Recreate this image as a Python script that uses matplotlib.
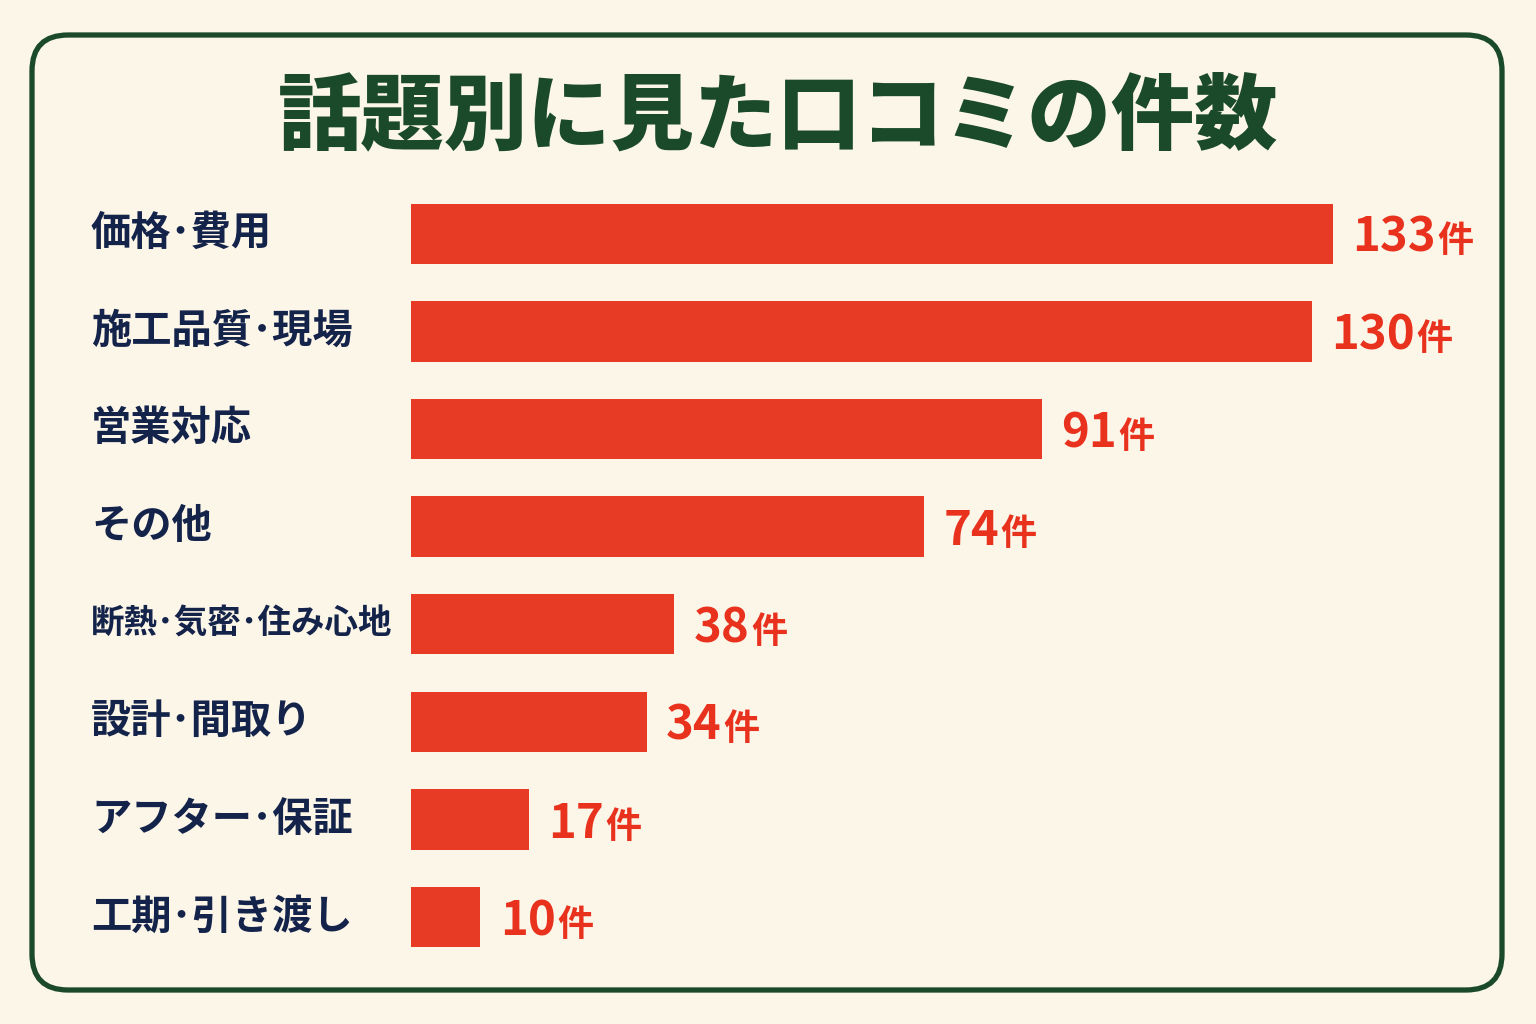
import matplotlib
matplotlib.use("Agg")
import matplotlib.pyplot as plt
from matplotlib.patches import FancyBboxPatch
from matplotlib.transforms import IdentityTransform, blended_transform_factory

plt.rcParams['font.family'] = ['Noto Sans CJK JP', 'DejaVu Sans']

title = "話題別に見た口コミの件数"
categories = ["価格・費用", "施工品質・現場", "営業対応", "その他",
              "断熱・気密・住み心地", "設計・間取り", "アフター・保証", "工期・引き渡し"]
counts = [133, 130, 91, 74, 38, 34, 17, 10]
unit = "件"

BG = "#fcf6e9"
GREEN = "#1b4a2b"
NAVY = "#14234a"
RED = "#e73b25"
RED_TXT = "#e8321e"

W, H = 1536, 1024
fig = plt.figure(figsize=(W / 100, H / 100), dpi=100, facecolor=BG)

# rounded frame (pixel coordinates)
frame = FancyBboxPatch((32, 34), 1470, 955,
                       boxstyle="round,pad=0,rounding_size=36",
                       transform=IdentityTransform(),
                       facecolor=BG, edgecolor=GREEN, linewidth=3.8, zorder=0)
fig.add_artist(frame)

fig.text(778 / W, 1 - 117 / H, title, ha="center", va="center",
         fontsize=60, fontweight="heavy", color=GREEN)

# bar axes
left_px = 411
px_per_unit = 6.93
ax_w_px = 1000
top_px, row_px = 185, 97.6
n = len(categories)
ax = fig.add_axes([left_px / W, 1 - (top_px + n * row_px) / H,
                   ax_w_px / W, n * row_px / H])
ax.set_facecolor("none")
ax.set_xlim(0, ax_w_px / px_per_unit)
ax.set_ylim(n - 0.5, -0.5)
ax.axis("off")

ypos = list(range(n))
ax.barh(ypos, counts, height=0.62, color=RED, edgecolor="none")

trans_lbl = blended_transform_factory(fig.transFigure, ax.transData)
renderer = fig.canvas.get_renderer()

# the reference sets the middle dot narrow: use its half-width form for display
max_right = 392
for y, cat in zip(ypos, categories):
    shown = cat.replace("・", "\uff65")
    fs = 29
    t = ax.text(91 / W, y, shown, transform=trans_lbl, ha="left", va="center",
                fontsize=fs, fontweight="bold", color=NAVY)
    bb = t.get_window_extent(renderer)
    if bb.x1 > max_right:
        t.set_fontsize(fs * (max_right - bb.x0) / bb.width)

for y, v in zip(ypos, counts):
    t = ax.annotate(str(v), xy=(v, y), xytext=(14, -3), textcoords="offset points",
                    ha="left", va="center", fontsize=34, fontweight="bold",
                    color=RED_TXT)
    ax.annotate(unit, xy=(1, 0.42), xycoords=t, xytext=(1, 0),
                textcoords="offset points", ha="left", va="center",
                fontsize=26, fontweight="bold", color=RED_TXT)

fig.savefig("out.png", dpi=100, facecolor=BG)
